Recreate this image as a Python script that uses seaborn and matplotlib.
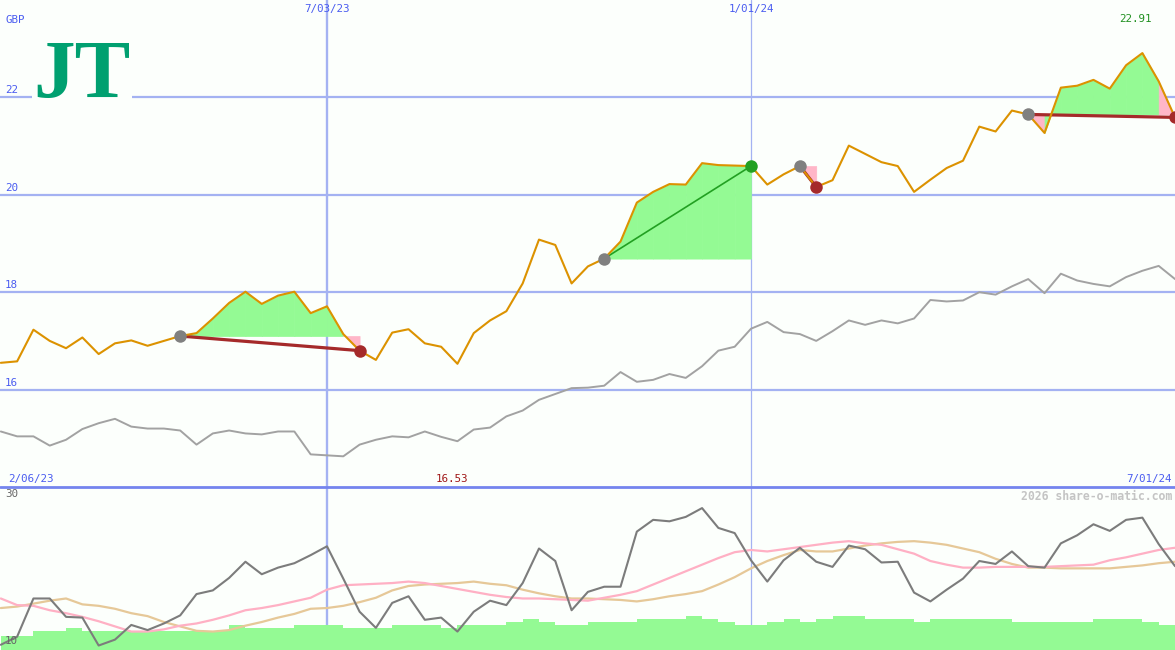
import numpy as np
import pandas as pd
import matplotlib
matplotlib.use("Agg")
import matplotlib.pyplot as plt
from matplotlib.lines import Line2D
import matplotlib.transforms as mtransforms
import matplotlib.dates as mdates
import seaborn as sns

# ---------------- data ----------------
dates = pd.date_range("2023-02-13", periods=73, freq="7D")

price = [16.55, 16.58, 17.23, 17.00, 16.85, 17.07, 16.73, 16.95, 17.01, 16.90,
         17.00, 17.10, 17.16, 17.46, 17.78, 18.01, 17.76, 17.93, 18.01, 17.57,
         17.71, 17.14, 16.80, 16.61, 17.17, 17.24, 16.95, 16.88, 16.53, 17.16,
         17.42, 17.61, 18.18, 19.08, 18.97, 18.18, 18.53, 18.69, 19.04, 19.84,
         20.06, 20.22, 20.21, 20.65, 20.61, 20.60, 20.59, 20.21, 20.42, 20.59,
         20.16, 20.30, 21.01, 20.84, 20.67, 20.59, 20.06, 20.31, 20.55, 20.70,
         21.40, 21.30, 21.73, 21.65, 21.27, 22.20, 22.24, 22.36, 22.18, 22.66,
         22.91, 22.33, 21.59]

index_line = [15.14, 15.04, 15.04, 14.85, 14.97, 15.19, 15.31, 15.40, 15.24, 15.20,
              15.20, 15.16, 14.87, 15.10, 15.16, 15.10, 15.08, 15.14, 15.14, 14.67,
              14.65, 14.63, 14.87, 14.97, 15.04, 15.02, 15.14, 15.03, 14.94, 15.18,
              15.22, 15.45, 15.57, 15.79, 15.91, 16.03, 16.04, 16.08, 16.36, 16.16,
              16.20, 16.32, 16.24, 16.48, 16.80, 16.88, 17.25, 17.39, 17.18, 17.14,
              17.00, 17.20, 17.42, 17.33, 17.42, 17.36, 17.46, 17.84, 17.81, 17.83,
              18.00, 17.95, 18.12, 18.27, 17.98, 18.38, 18.24, 18.17, 18.12, 18.31,
              18.44, 18.54, 18.27]

osc = [10.3, 11.4, 16.6, 16.6, 14.1, 14.0, 10.2, 11.0, 13.0, 12.3,
       13.2, 14.3, 17.2, 17.7, 19.4, 21.6, 19.9, 20.8, 21.4, 22.5,
       23.7, 19.3, 14.8, 12.6, 16.0, 16.9, 13.7, 14.0, 12.1, 14.8,
       16.3, 15.7, 18.7, 23.4, 21.7, 15.0, 17.5, 18.2, 18.2, 25.7,
       27.3, 27.1, 27.7, 28.9, 26.2, 25.5, 21.8, 18.9, 21.8, 23.5,
       21.6, 20.9, 23.8, 23.3, 21.5, 21.6, 17.4, 16.2, 17.8, 19.3,
       21.7, 21.3, 23.0, 21.0, 20.8, 24.1, 25.2, 26.7, 25.8, 27.3,
       27.6, 24.0, 21.0]

avg_fast = [16.6, 15.7, 15.6, 15.0, 14.6, 14.1, 13.5, 12.8, 12.1, 12.1,
            12.4, 12.9, 13.2, 13.7, 14.3, 15.0, 15.3, 15.7, 16.2, 16.7,
            17.8, 18.4, 18.5, 18.6, 18.7, 18.9, 18.7, 18.3, 17.9, 17.5,
            17.1, 16.8, 16.6, 16.6, 16.5, 16.4, 16.3, 16.7, 17.1, 17.6,
            18.5, 19.4, 20.3, 21.2, 22.1, 22.9, 23.2, 23.0, 23.3, 23.6,
            23.9, 24.2, 24.4, 24.1, 23.9, 23.3, 22.7, 21.7, 21.2, 20.8,
            20.8, 20.9, 20.9, 20.9, 20.9, 21.0, 21.1, 21.2, 21.8, 22.2,
            22.7, 23.2, 23.5]

avg_slow = [15.3, 15.5, 15.9, 16.3, 16.6, 15.8, 15.6, 15.2, 14.6, 14.2,
            13.4, 12.8, 12.2, 12.1, 12.3, 12.9, 13.4, 14.0, 14.5, 15.2,
            15.3, 15.6, 16.1, 16.7, 17.7, 18.3, 18.5, 18.6, 18.7, 18.9,
            18.6, 18.4, 17.8, 17.3, 16.9, 16.6, 16.6, 16.5, 16.4, 16.2,
            16.5, 16.9, 17.2, 17.6, 18.5, 19.5, 20.7, 21.7, 22.5, 23.2,
            23.0, 23.0, 23.4, 23.8, 24.1, 24.3, 24.4, 24.2, 23.9, 23.4,
            22.9, 22.0, 21.3, 20.8, 20.8, 20.7, 20.7, 20.7, 20.7, 20.9,
            21.1, 21.4, 21.6]

volume = [1.4, 1.4, 1.9, 1.9, 2.2, 1.9, 1.9, 1.9, 1.9, 1.9,
          1.9, 1.9, 1.9, 1.9, 2.5, 2.2, 2.2, 2.2, 2.5, 2.5,
          2.5, 2.2, 2.2, 2.2, 2.5, 2.5, 2.5, 2.2, 2.5, 2.5,
          2.5, 2.8, 3.1, 2.8, 2.5, 2.5, 2.8, 2.8, 2.8, 3.1,
          3.1, 3.1, 3.4, 3.1, 2.8, 2.5, 2.5, 2.8, 3.1, 2.8,
          3.1, 3.4, 3.4, 3.1, 3.1, 3.1, 2.8, 3.1, 3.1, 3.1,
          3.1, 3.1, 2.8, 2.8, 2.8, 2.8, 2.8, 3.1, 3.1, 3.1,
          2.8, 2.5, 2.5]

# trades: (entry index, exit index)
trades = [(11, 22), (37, 46), (49, 50), (63, 72)]

price_ticks = [16, 18, 20, 22]
date_marks = [pd.Timestamp("2023-07-03"), pd.Timestamp("2024-01-01")]
start_label = "2/06/23"
end_label = "7/01/24"
osc_ticks = [30, 10]
currency = "GBP"
watermark = "2026 share-o-matic.com"
logo_text = "JT"

# ---------------- style ----------------
sns.set_theme(style="white")
plt.rcParams["font.family"] = ["DejaVu Sans Mono", "DejaVu Sans"]

BG = "#fcfffc"
GRID = "#a4b2f2"
BLUE = "#4a5cf0"
ORANGE = "#dc9200"
GREY = "#a2a2a2"
FILL_G = "#94fa94"
FILL_P = "#ffb6c8"
DARKRED = "#a52a2a"
WIN = "#22a022"
FS = 7.8

W, H = 1175, 650
fig = plt.figure(figsize=(W / 100, H / 100), dpi=100)
fig.patch.set_facecolor(BG)

xnum = mdates.date2num(dates.to_pydatetime())
marks_num = mdates.date2num([d.to_pydatetime() for d in date_marks])

split = 163 / H
ax = fig.add_axes([0, split, 1, 1 - split])
axv = fig.add_axes([0, 0, 1, split])
axl = fig.add_axes([0, 0, 1, split])

xleft = xnum[0] - 0.35
xright = xnum[-1]


def clean(a):
    a.set_xlim(xleft, xright)
    for s in a.spines.values():
        s.set_visible(False)
    a.set_xticks([])
    a.set_yticks([])
    a.set_xlabel("")
    a.set_ylabel("")


ax.set_facecolor(BG)
axv.set_facecolor(BG)
axl.set_facecolor("none")

# grid
for v in price_ticks:
    ax.axhline(v, color=GRID, lw=1.6, zorder=1)
for k, d in enumerate(marks_num):
    lw = 1.7 if k == 0 else 0.9
    ax.axvline(d, color=GRID, lw=lw, zorder=1)
    axv.axvline(d, color=GRID, lw=lw, zorder=1)

# comparison line
sns.lineplot(x=xnum, y=index_line, ax=ax, color=GREY, lw=1.4, zorder=3)

# trade fills and lines
for s, e in trades:
    lvl = price[s]
    for j in range(s, e):
        col = FILL_G if price[j + 1] >= lvl else FILL_P
        ax.fill_between(xnum[j:j + 2], lvl, price[j:j + 2], facecolor=col,
                        edgecolor=col, lw=0.5, zorder=2)
for s, e in trades:
    win = price[e] > price[s]
    ax.plot([xnum[s], xnum[e]], [price[s], price[e]],
            color=WIN if win else DARKRED, lw=1.2 if win else 2.3, zorder=3,
            solid_capstyle="butt")

sns.lineplot(x=xnum, y=price, ax=ax, color=ORANGE, lw=1.5, zorder=4)

for s, e in trades:
    win = price[e] > price[s]
    ax.plot(xnum[s], price[s], "o", ms=9, color="#808080", mec="none", zorder=5)
    ax.plot(xnum[e], price[e], "o", ms=9, color=WIN if win else DARKRED, mec="none", zorder=5)
ax.set_ylim(14, 24)
clean(ax)

# price axis labels
ytr = mtransforms.blended_transform_factory(ax.transAxes, ax.transData)
for v in price_ticks:
    ax.text(5 / W, v + 0.04, f"{v}", transform=ytr, color=BLUE, fontsize=FS,
            ha="left", va="bottom", zorder=6)
fig.text(5 / W, 1 - 20 / H, currency, color=BLUE, fontsize=FS, ha="left", va="center")

# date labels
xtr = mtransforms.blended_transform_factory(ax.transData, ax.transAxes)
for d, dn in zip(date_marks, marks_num):
    ax.text(dn, 1 - 9 / 487, f"{d.month}/{d:%d}/{d:%y}", transform=xtr, color=BLUE,
            fontsize=FS, ha="center", va="center")
fig.text(8 / W, 1 - 479 / H, start_label, color=BLUE, fontsize=FS, ha="left", va="center")
fig.text(1172 / W, 1 - 479 / H, end_label, color=BLUE, fontsize=FS, ha="right", va="center")

# min / max labels
imin = int(np.argmin(price)); imax = int(np.argmax(price))
ax.annotate(f"{price[imin]:.2f}", xy=(xnum[imin], 0), xycoords=xtr,
            xytext=(-4, 6), textcoords="offset points", color="#a01818",
            fontsize=FS, ha="center", va="center")
ax.annotate(f"{price[imax]:.2f}", xy=(xnum[imax], 1), xycoords=xtr,
            xytext=(-5, -14), textcoords="offset points", color="#209020",
            fontsize=FS, ha="center", va="center")

# logo
fig.text(82 / W, 1 - 78 / H, logo_text, fontsize=60, family="Liberation Serif",
         weight="bold", color="#00a070", ha="center", va="center",
         bbox=dict(fc=BG, ec="none", pad=1))

# ---------------- lower panel ----------------
axv.fill_between(xnum, 0, volume, step="post", color=FILL_G, lw=0, zorder=2)
axv.set_ylim(0, 16.3)
clean(axv)

sns.lineplot(x=xnum, y=avg_slow, ax=axl, color="#e6c898", lw=1.6, zorder=3)
sns.lineplot(x=xnum, y=avg_fast, ax=axl, color="#ffb0c4", lw=1.6, zorder=3)
sns.lineplot(x=xnum, y=osc, ax=axl, color="#7c7c7c", lw=1.5, zorder=4)
axl.set_ylim(9.59, 31.77)
clean(axl)

ltr = mtransforms.blended_transform_factory(axl.transAxes, axl.transData)
for v in osc_ticks:
    axl.text(5 / W, v + 0.2, f"{v}", transform=ltr, color="#666666", fontsize=FS,
             ha="left", va="bottom", zorder=6)

fig.text(1172 / W, 1 - 496 / H, watermark, color="#c4c4c4", fontsize=8.3,
         weight="bold", ha="right", va="center")

# panel separator
fig.add_artist(Line2D([0, 1], [split, split], transform=fig.transFigure,
                      color="#7484ee", lw=2))

fig.savefig("out.png", dpi=100, facecolor=BG)
